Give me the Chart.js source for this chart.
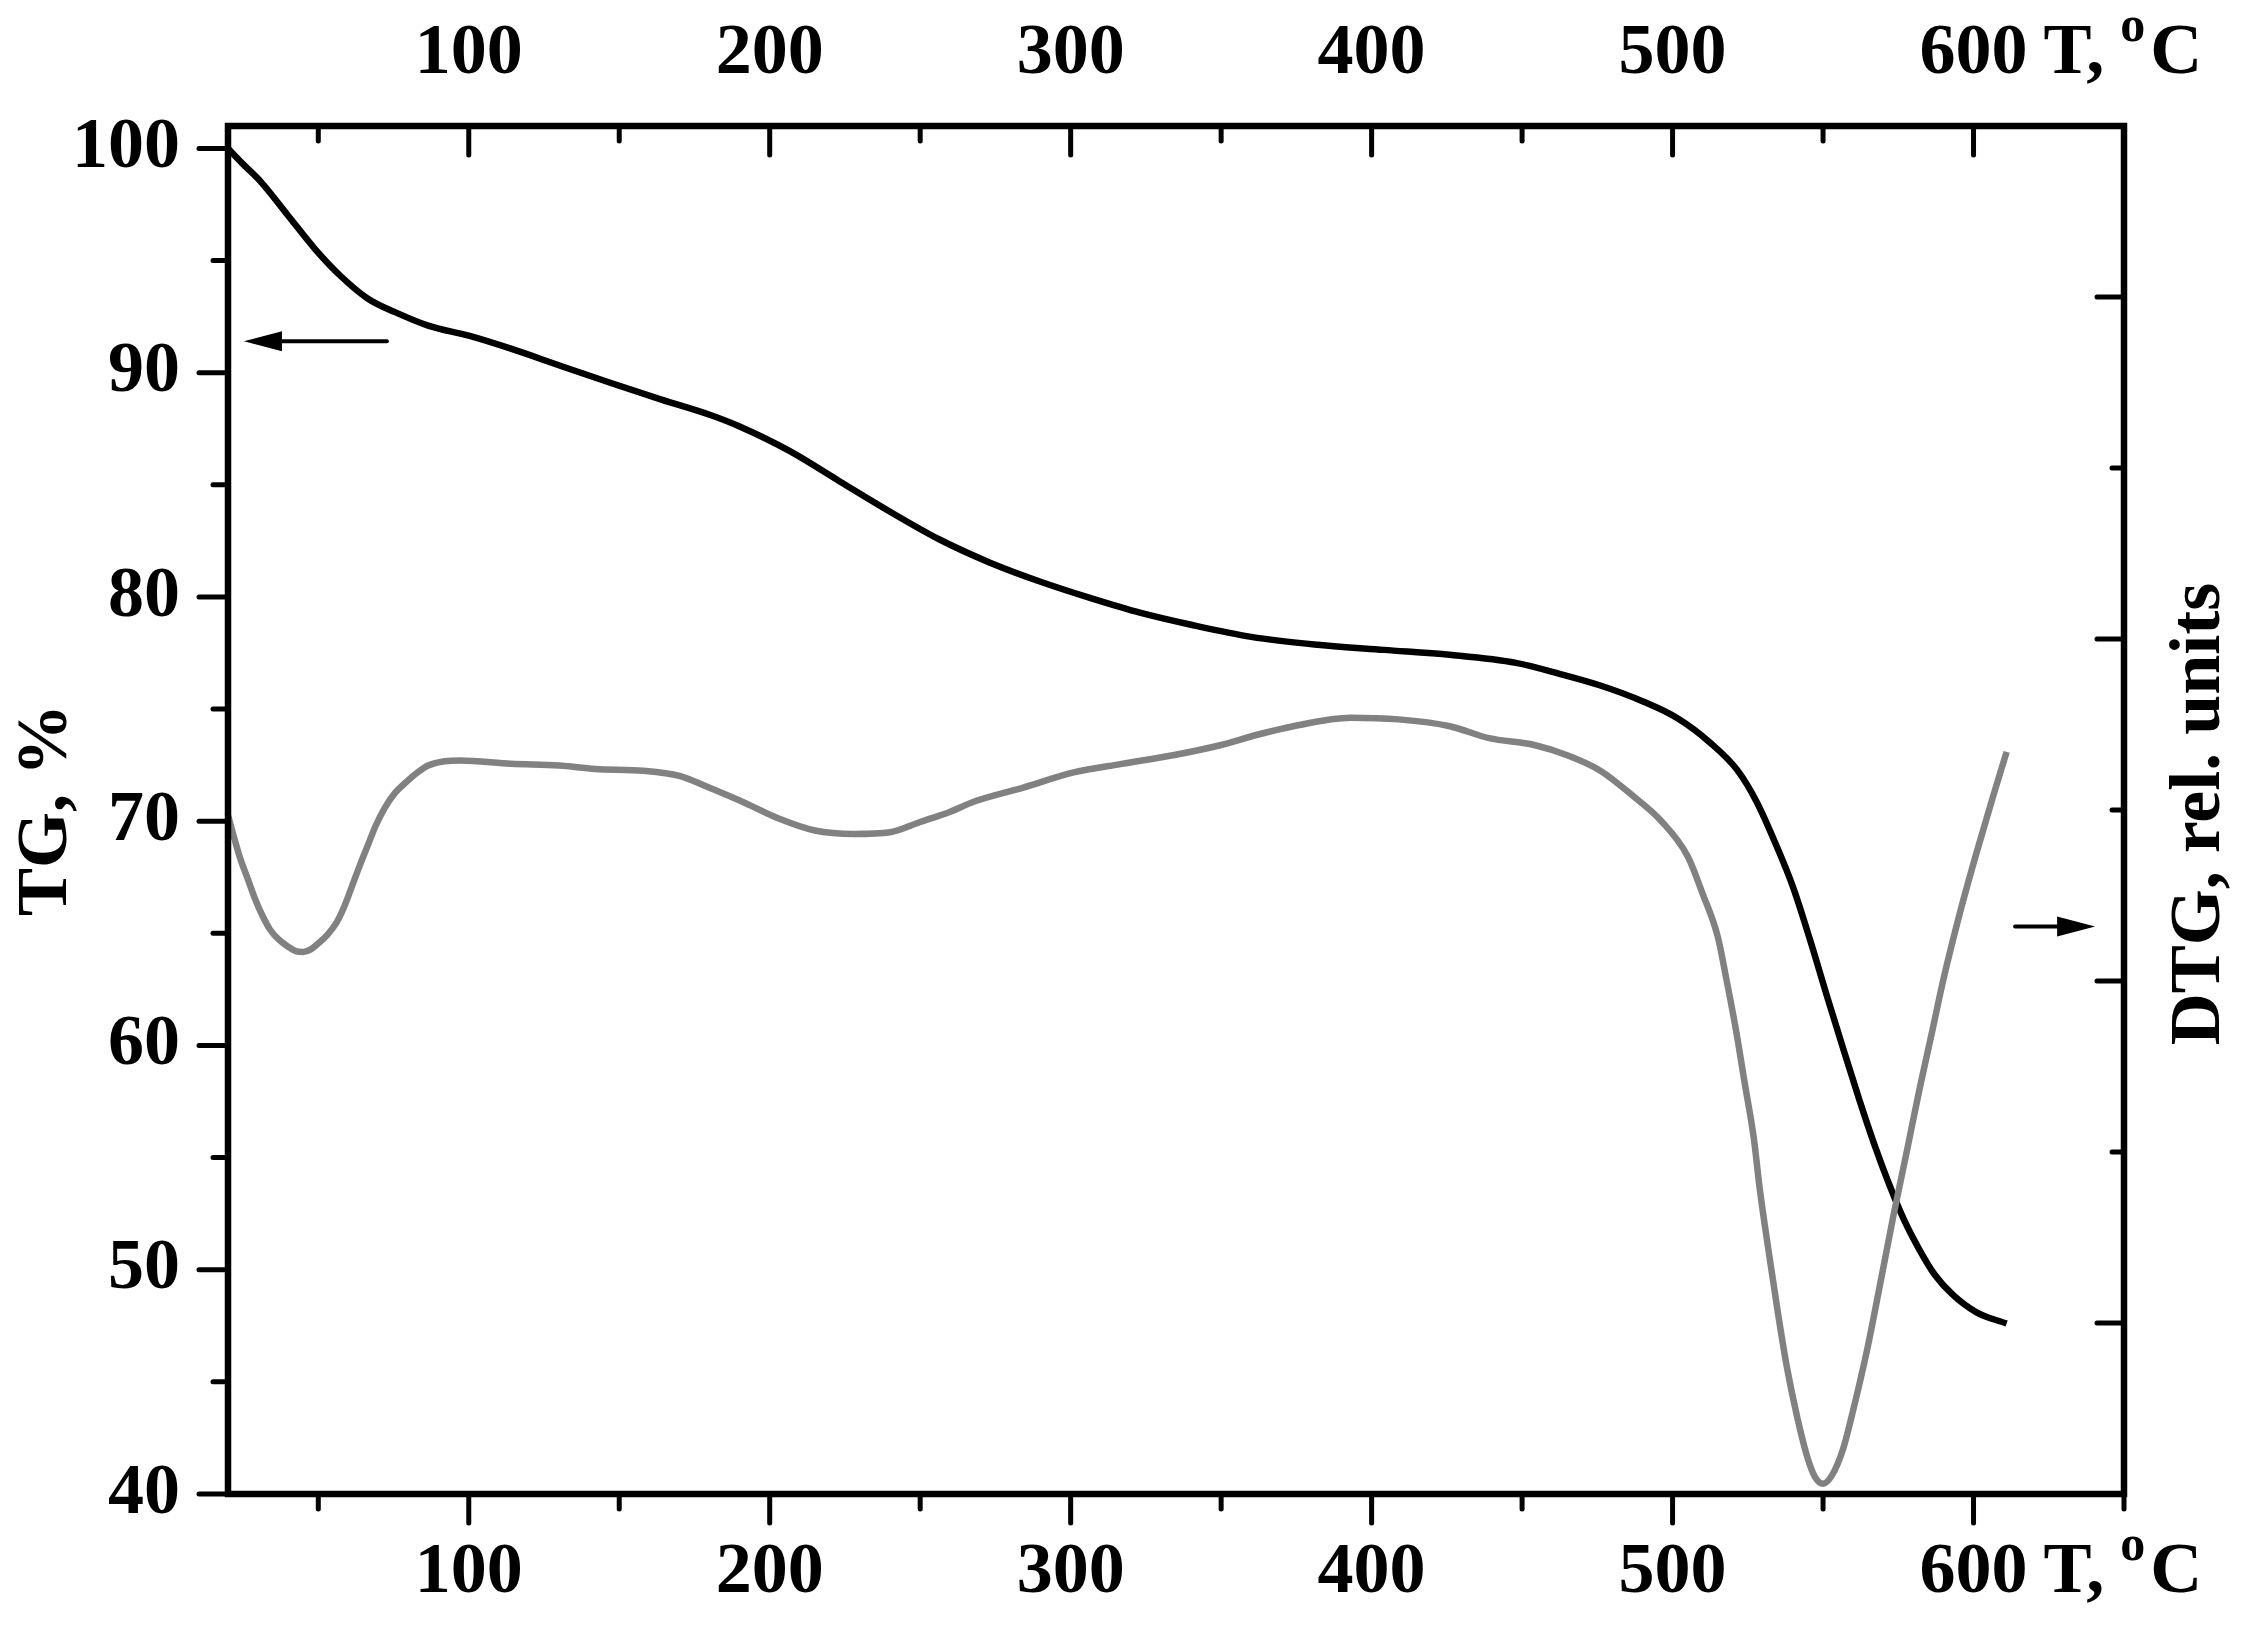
<!DOCTYPE html>
<html>
<head>
<meta charset="utf-8">
<script src="https://cdn.jsdelivr.net/npm/chart.js@4.4.1/dist/chart.umd.min.js"></script>
<style>
  html, body { margin: 0; padding: 0; background: #ffffff; }
  #wrap { width: 2256px; height: 1626px; }
</style>
</head>
<body>
<div id="wrap"><canvas id="c" width="2256" height="1626"></canvas></div>
<script>
// ---------------- data ----------------
const tgTemp  = [20, 25, 31, 40, 49, 57.5, 66.5, 75.5, 86.5, 100, 114, 130.6, 147, 164, 180.5, 190, 206.7, 223.4, 240, 256.6, 273.2, 290, 306.4, 323, 340, 360, 382, 404, 426, 448, 463, 476, 490, 501.5, 512.5, 521.4, 528, 534.7, 540, 545.7, 551.3, 556.6, 562, 567, 572, 577, 582, 587, 593, 601, 611];
const tgValue = [100.0, 99.3, 98.5, 97.0, 95.5, 94.3, 93.3, 92.7, 92.1, 91.65, 91.07, 90.3, 89.55, 88.8, 88.1, 87.6, 86.5, 85.14, 83.8, 82.55, 81.53, 80.68, 79.96, 79.3, 78.76, 78.22, 77.87, 77.64, 77.42, 77.06, 76.55, 76.05, 75.35, 74.6, 73.5, 72.3, 70.85, 68.85, 67.07, 64.7, 62.2, 59.9, 57.6, 55.6, 53.8, 52.2, 50.9, 49.8, 48.9, 48.1, 47.6];

const dtgTemp  = [20, 22, 24, 26.5, 29, 31.5, 34, 37, 40, 42.5, 45, 47.5, 50, 53, 56, 58.5, 61, 64, 66.5, 69, 72, 75.5, 79, 83, 86.5, 92, 97, 114, 130, 142, 158, 170, 180, 192, 203, 215, 228, 240, 250, 260, 268, 284, 301, 317, 334, 350, 362, 374, 393, 409, 426, 439, 454, 465, 476, 487, 496, 505, 510, 515, 518, 521, 524, 527, 529, 532, 535, 538, 541.4, 544.7, 547.3, 550, 553, 556.6, 560, 564.6, 569, 573.3, 577.9, 582.2, 586.2, 590, 595.5, 601, 606.5, 611];
const dtgValue = [3.97, 3.84, 3.72, 3.60, 3.48, 3.38, 3.30, 3.24, 3.20, 3.175, 3.17, 3.185, 3.22, 3.27, 3.34, 3.43, 3.545, 3.685, 3.795, 3.905, 4.01, 4.10, 4.16, 4.22, 4.26, 4.285, 4.29, 4.27, 4.26, 4.24, 4.23, 4.20, 4.13, 4.04, 3.95, 3.88, 3.86, 3.87, 3.93, 3.99, 4.05, 4.13, 4.22, 4.27, 4.32, 4.38, 4.44, 4.49, 4.54, 4.53, 4.49, 4.42, 4.38, 4.32, 4.23, 4.08, 3.94, 3.73, 3.51, 3.26, 3.00, 2.72, 2.40, 2.08, 1.78, 1.41, 1.06, 0.74, 0.45, 0.22, 0.10, 0.06, 0.11, 0.26, 0.49, 0.84, 1.23, 1.62, 2.01, 2.38, 2.70, 3.01, 3.40, 3.75, 4.08, 4.34];

const xRange   = [20, 650];
const tgRange  = [40, 101];
const dtgRange = [0, 8];

const xMajorTicks   = [100, 200, 300, 400, 500, 600];
const xMinorTicks   = [50, 150, 250, 350, 450, 550, 650];
const tgMajorTicks  = [40, 50, 60, 70, 80, 90, 100];
const tgMinorTicks  = [45, 55, 65, 75, 85, 95];
const dtgMajorTicks = [1, 3, 5, 7];
const dtgMinorTicks = [2, 4, 6];

const tgTitle  = 'TG, %';
const dtgTitle = 'DTG, rel. units';
const unitMain = 'T,';
const unitSup  = 'o';
const unitEnd  = 'C';
const unitAfter = 600;

// arrows in (temperature, TG %) coordinates
const tgArrowFrom  = [72.8, 91.4];
const tgArrowTo    = [25.3, 91.4];
const dtgArrowFrom = [613.8, 65.3];
const dtgArrowTo   = [640.4, 65.3];

// ---------------- style ----------------
const FONT = "'Liberation Serif', 'Times New Roman', serif";
const FS = 72;
const LH = 1.2;
const PAD_BOTTOM = 36, PAD_TOP = 28, PAD_LEFT = 48;
const tickFont = { family: FONT, size: FS, weight: 'bold', lineHeight: LH };

const setTicks = vals => scale => { scale.ticks = vals.map(v => ({ value: v })); };

const xyPoints = (xs, ys) => xs.map((x, i) => ({ x: x, y: ys[i] }));

const framePlugin = {
  id: 'frameTicks',
  afterDraw(chart) {
    const ctx = chart.ctx;
    const a = chart.chartArea;
    const sx = chart.scales.x, sy = chart.scales.y, sy2 = chart.scales.y2;
    ctx.save();
    ctx.strokeStyle = '#000';
    ctx.fillStyle = '#000';
    // ticks
    ctx.lineWidth = 5;
    ctx.lineCap = 'round';
    const MAJ = 29, MIN = 15, RMAJ = 27, RMIN = 12;
    const line = (x1, y1, x2, y2) => { ctx.beginPath(); ctx.moveTo(x1, y1); ctx.lineTo(x2, y2); ctx.stroke(); };
    xMajorTicks.forEach(v => { const p = sx.getPixelForValue(v); line(p, a.bottom, p, a.bottom + MAJ); line(p, a.top, p, a.top + MAJ); });
    xMinorTicks.forEach(v => { const p = sx.getPixelForValue(v); line(p, a.bottom, p, a.bottom + MIN); line(p, a.top, p, a.top + MIN); });
    tgMajorTicks.forEach(v => { const p = sy.getPixelForValue(v); line(a.left, p, a.left - MAJ, p); });
    tgMinorTicks.forEach(v => { const p = sy.getPixelForValue(v); line(a.left, p, a.left - MIN, p); });
    dtgMajorTicks.forEach(v => { const p = sy2.getPixelForValue(v); line(a.right, p, a.right - RMAJ, p); });
    dtgMinorTicks.forEach(v => { const p = sy2.getPixelForValue(v); line(a.right, p, a.right - RMIN, p); });
    // frame
    ctx.lineCap = 'square';
    ctx.lineJoin = 'miter';
    ctx.lineWidth = 6.5;
    ctx.strokeRect(a.left, a.top, a.right - a.left, a.bottom - a.top);

    // arrows
    const arrow = (from, to) => {
      const x1 = sx.getPixelForValue(from[0]), y1 = sy.getPixelForValue(from[1]);
      const x2 = sx.getPixelForValue(to[0]),   y2 = sy.getPixelForValue(to[1]);
      const dir = Math.sign(x2 - x1);
      const HL = 38, HW = 10;
      ctx.lineWidth = 4;
      ctx.lineCap = 'round';
      line(x1, y1, x2 - dir * HL * 0.8, y2);
      ctx.beginPath();
      ctx.moveTo(x2, y2);
      ctx.lineTo(x2 - dir * HL, y2 - HW);
      ctx.lineTo(x2 - dir * HL, y2 + HW);
      ctx.closePath();
      ctx.fill();
    };
    arrow(tgArrowFrom, tgArrowTo);
    arrow(dtgArrowFrom, dtgArrowTo);

    // unit label after the 600 tick label (top and bottom)
    const drawUnit = (scale, yMid) => {
      const xp = scale.getPixelForValue(unitAfter);
      ctx.font = `bold ${FS}px ${FONT}`;
      const w = ctx.measureText(String(unitAfter)).width;
      let x = xp + w / 2 + 16;
      ctx.textAlign = 'left';
      ctx.textBaseline = 'middle';
      ctx.fillText(unitMain, x, yMid);
      x += ctx.measureText(unitMain).width + 16;
      ctx.font = `bold 50px ${FONT}`;
      ctx.textBaseline = 'alphabetic';
      ctx.fillText(unitSup, x, yMid + 0.34 * FS - 38);
      x += ctx.measureText(unitSup).width + 5;
      ctx.font = `bold ${FS}px ${FONT}`;
      ctx.textBaseline = 'middle';
      ctx.fillText(unitEnd, x, yMid);
    };
    drawUnit(chart.scales.x2, chart.scales.x2.bottom - PAD_TOP - FS * LH / 2);
    drawUnit(sx, sx.top + PAD_BOTTOM + FS * LH / 2);

    // right axis title (reads bottom-to-top)
    ctx.save();
    ctx.translate(2200, 814);
    ctx.rotate(-Math.PI / 2);
    ctx.font = `bold ${FS}px ${FONT}`;
    ctx.textAlign = 'center';
    ctx.textBaseline = 'middle';
    ctx.fillText(dtgTitle, 0, 0);
    ctx.restore();

    ctx.restore();
  }
};

new Chart(document.getElementById('c'), {
  type: 'line',
  data: {
    datasets: [
      {
        label: 'DTG',
        data: xyPoints(dtgTemp, dtgValue),
        yAxisID: 'y2',
        xAxisID: 'x',
        borderColor: '#818181',
        borderWidth: 6.5,
        pointRadius: 0,
        fill: false,
        cubicInterpolationMode: 'monotone',
        order: 1
      },
      {
        label: 'TG',
        data: xyPoints(tgTemp, tgValue),
        yAxisID: 'y',
        xAxisID: 'x',
        borderColor: '#000000',
        borderWidth: 6.5,
        pointRadius: 0,
        fill: false,
        cubicInterpolationMode: 'monotone',
        order: 2
      }
    ]
  },
  options: {
    responsive: false,
    animation: false,
    events: [],
    layout: { padding: 0 },
    plugins: { legend: { display: false }, tooltip: { enabled: false } },
    scales: {
      x: {
        type: 'linear', position: 'bottom', min: xRange[0], max: xRange[1],
        afterBuildTicks: setTicks(xMajorTicks),
        afterFit: s => { s.height = 132; },
        grid: { display: false, drawTicks: false },
        border: { display: false },
        ticks: { color: '#000', font: tickFont, padding: PAD_BOTTOM, maxRotation: 0, autoSkip: false, callback: v => String(v) }
      },
      x2: {
        type: 'linear', position: 'top', min: xRange[0], max: xRange[1],
        afterBuildTicks: setTicks(xMajorTicks),
        afterFit: s => { s.height = 126; },
        grid: { display: false, drawTicks: false },
        border: { display: false },
        ticks: { color: '#000', font: tickFont, padding: PAD_TOP, maxRotation: 0, autoSkip: false, callback: v => String(v) }
      },
      y: {
        type: 'linear', position: 'left', min: tgRange[0], max: tgRange[1],
        afterBuildTicks: setTicks(tgMajorTicks),
        afterFit: s => { s.width = 228; },
        grid: { display: false, drawTicks: false },
        border: { display: false },
        ticks: { color: '#000', font: tickFont, padding: PAD_LEFT, autoSkip: false, callback: v => String(v) },
        title: { display: true, text: tgTitle, color: '#000', font: tickFont, padding: { top: 4, bottom: 0 } }
      },
      y2: {
        type: 'linear', position: 'right', min: dtgRange[0], max: dtgRange[1],
        afterFit: s => { s.width = 132; },
        grid: { display: false, drawTicks: false },
        border: { display: false },
        ticks: { display: false }
      }
    }
  },
  plugins: [framePlugin]
});
</script>
</body>
</html>
